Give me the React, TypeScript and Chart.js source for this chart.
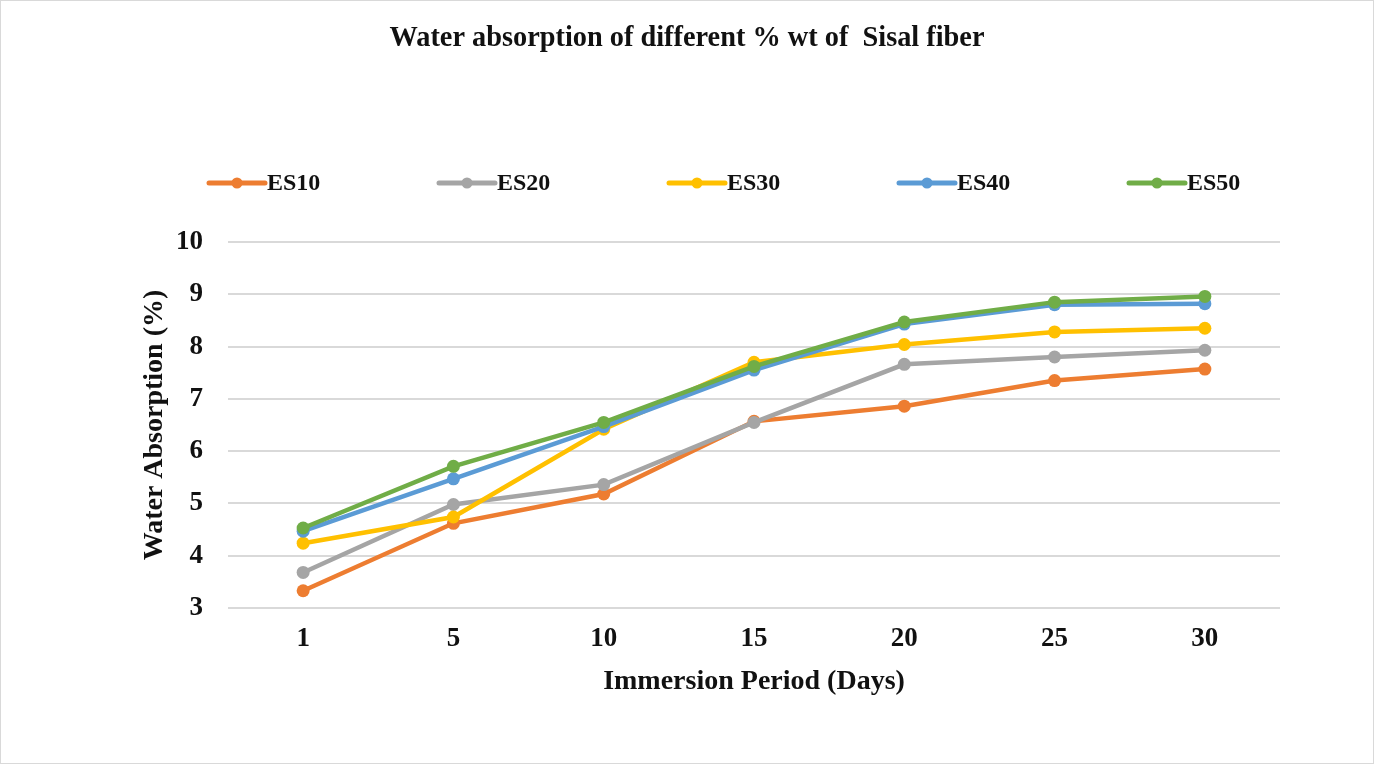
import React, { useEffect, useRef } from "react";
import { Chart, registerables } from "chart.js";

Chart.register(...registerables);

const title = "Water absorption of different % wt of  Sisal fiber";
const xAxisTitle = "Immersion Period (Days)";
const yAxisTitle = "Water Absorption (%)";
const categories = ["1", "5", "10", "15", "20", "25", "30"];
const seriesNames = ["ES10", "ES20", "ES30", "ES40", "ES50"];
const es10 = [3.33, 4.62, 5.18, 6.57, 6.86, 7.35, 7.57];
const es20 = [3.68, 4.98, 5.36, 6.55, 7.66, 7.8, 7.93];
const es30 = [4.24, 4.74, 6.42, 7.7, 8.04, 8.28, 8.35];
const es40 = [4.47, 5.47, 6.47, 7.55, 8.43, 8.8, 8.82];
const es50 = [4.53, 5.71, 6.55, 7.62, 8.47, 8.85, 8.96];
const seriesColors = ["#ED7D31", "#A5A5A5", "#FFC000", "#5B9BD5", "#70AD47"];

const FONT = "'Liberation Serif', 'Times New Roman', serif";
const TEXT = "#111111";

const overlayPlugin = {
  id: "overlay",
  afterDraw(chart: any) {
    const ctx = chart.ctx as CanvasRenderingContext2D;
    ctx.save();
    // Title
    ctx.font = `bold 29px ${FONT}`;
    ctx.fillStyle = TEXT;
    ctx.textAlign = "center";
    ctx.textBaseline = "middle";
    const tw = ctx.measureText(title).width;
    const target = 595;
    const sx = target / tw;
    ctx.translate(chart.width / 2, 38);
    ctx.scale(sx, 1);
    ctx.fillText(title, 0, 0);
    ctx.setTransform(1, 0, 0, 1, 0, 0);
    ctx.restore();

    // Legend
    ctx.save();
    const startX = chart.chartArea.left - 20;
    const spacing = 230;
    const ly = 182;
    chart.data.datasets.forEach((ds: any, i: number) => {
      const x0 = startX + i * spacing;
      ctx.strokeStyle = ds.borderColor;
      ctx.lineWidth = 5;
      ctx.lineCap = "round";
      ctx.beginPath();
      ctx.moveTo(x0 + 1, ly);
      ctx.lineTo(x0 + 57, ly);
      ctx.stroke();
      ctx.fillStyle = ds.borderColor;
      ctx.beginPath();
      ctx.arc(x0 + 29, ly, 5.5, 0, Math.PI * 2);
      ctx.fill();
      ctx.fillStyle = TEXT;
      ctx.font = `bold 24px ${FONT}`;
      ctx.textAlign = "left";
      ctx.textBaseline = "middle";
      ctx.fillText(ds.label, x0 + 59, ly + 1);
    });
    ctx.restore();
  },
};

export default function App() {
  const ref = useRef<HTMLCanvasElement>(null);
  useEffect(() => {
    document.body.style.margin = "0";
    if (!ref.current) return;
    const data = [es10, es20, es30, es40, es50];
    const chart = new Chart(ref.current, {
      type: "line",
      data: {
        labels: categories,
        datasets: seriesNames.map((name, i) => ({
          label: name,
          data: data[i],
          borderColor: seriesColors[i],
          backgroundColor: seriesColors[i],
          pointBackgroundColor: seriesColors[i],
          pointBorderColor: seriesColors[i],
          borderWidth: 4.5,
          pointRadius: 6.5,
          pointBorderWidth: 0,
          tension: 0,
          order: seriesNames.length - i,
        })),
      },
      options: {
        responsive: false,
        animation: false,
        layout: { padding: { left: 137, right: 93, top: 241, bottom: 64 } },
        plugins: {
          legend: { display: false },
          title: { display: false },
          tooltip: { enabled: false },
        },
        scales: {
          x: {
            offset: true,
            grid: { display: false, drawTicks: false },
            border: { display: false },
            ticks: {
              color: TEXT,
              font: { family: FONT, size: 27, weight: "bold" },
              padding: 15,
              maxRotation: 0,
            },
            title: {
              display: true,
              text: xAxisTitle,
              color: TEXT,
              font: { family: FONT, size: 28, weight: "bold" },
              padding: 0,
            },
            afterFit: (scale: any) => {
              scale.height = 91;
            },
          },
          y: {
            min: 3,
            max: 10,
            ticks: {
              stepSize: 1,
              color: TEXT,
              font: { family: FONT, size: 27, weight: "bold" },
              padding: 25,
            },
            grid: { color: "#D9D9D9", lineWidth: 2, drawTicks: false },
            border: { display: false },
            title: {
              display: true,
              text: yAxisTitle,
              color: TEXT,
              font: { family: FONT, size: 28, weight: "bold" },
              padding: 0,
            },
            afterFit: (scale: any) => {
              scale.width = 90;
            },
          },
        },
      },
      plugins: [overlayPlugin],
    });
    return () => chart.destroy();
  }, []);
  return (
    <div
      style={{
        width: 1374,
        height: 764,
        boxSizing: "border-box",
        border: "1px solid #D9D9D9",
        background: "#fff",
      }}
    >
      <canvas ref={ref} width={1372} height={762} style={{ display: "block" }} />
    </div>
  );
}
